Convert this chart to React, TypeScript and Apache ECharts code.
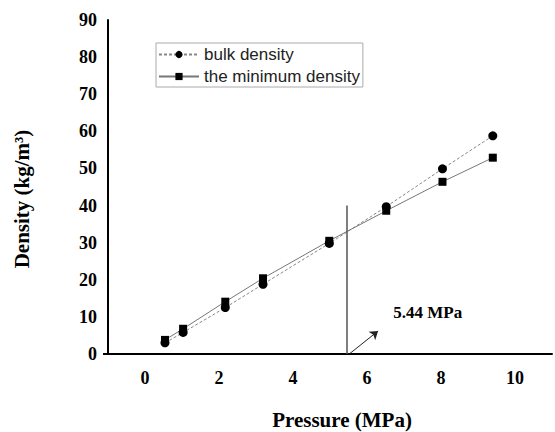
import React, { useEffect, useRef } from "react";
import * as echarts from "echarts";

const pressure = [0.54, 1.03, 2.17, 3.19, 4.98, 6.52, 8.04, 9.4];
const bulkDensity = [3.0, 5.8, 12.5, 18.8, 29.8, 39.7, 49.9, 58.8];
const minimumDensity = [3.8, 6.8, 14.1, 20.4, 30.5, 38.6, 46.4, 52.9];
const seriesNames = ["bulk density", "the minimum density"];
const criticalPressure = 5.44;
const criticalLineTop = 40;
const arrowStart = [5.52, 0];
const arrowEnd = [6.3, 6.2];
const annotationPos = [7.64, 11.3];
const annotationText = "5.44 MPa";

export default function App() {
  const ref = useRef<HTMLDivElement>(null);
  useEffect(() => {
    if (!ref.current) return;
    const chart = echarts.init(ref.current, undefined, { renderer: "svg" });
    const serif = "'Liberation Serif', 'Times New Roman', serif";
    const tickStyle = { fontFamily: serif, fontWeight: "bold", fontSize: 18, color: "#000" };
    chart.setOption({
      animation: false,
      backgroundColor: "#fff",
      textStyle: { fontFamily: serif },
      grid: { left: 108, right: 0, top: 20, bottom: 78 },
      legend: {
        orient: "vertical",
        left: 156,
        top: 43,
        itemWidth: 40,
        itemHeight: 9,
        itemGap: 5,
        padding: [3, 3, 2, 2],
        borderColor: "#aaa",
        borderWidth: 1,
        textStyle: { fontFamily: "'Liberation Sans', Arial, sans-serif", fontSize: 17, color: "#222" },
        data: seriesNames,
      },
      xAxis: {
        type: "value",
        min: -1,
        max: 11,
        interval: 1,
        axisLine: { onZero: false, lineStyle: { color: "#000", width: 2 } },
        axisTick: { show: false },
        splitLine: { show: false },
        axisLabel: {
          margin: 15,
          ...tickStyle,
          formatter: (v: number) => (v >= 0 && v <= 10 && v % 2 === 0 ? String(v) : ""),
        },
      },
      yAxis: {
        type: "value",
        min: 0,
        max: 90,
        interval: 10,
        axisLine: { show: true, onZero: false, lineStyle: { color: "#000", width: 2 } },
        axisTick: { show: false },
        splitLine: { show: false },
        axisLabel: { margin: 11, ...tickStyle },
      },
      graphic: [
        {
          type: "line",
          shape: { x1: 103, y1: 354, x2: 109, y2: 354 },
          style: { stroke: "#000", lineWidth: 2 },
        },
        {
          type: "text",
          x: 342,
          y: 420,
          style: {
            text: "Pressure (MPa)",
            font: "bold 21px " + serif,
            fill: "#000",
            textAlign: "center",
            textVerticalAlign: "middle",
          },
        },
        {
          type: "text",
          x: 22,
          y: 199,
          rotation: Math.PI / 2,
          style: {
            text: "Density (kg/m³)",
            font: "bold 21px " + serif,
            fill: "#000",
            textAlign: "center",
            textVerticalAlign: "middle",
          },
        },
      ],
      series: [
        {
          name: seriesNames[0],
          type: "line",
          data: pressure.map((p, i) => [p, bulkDensity[i]]),
          symbol: "circle",
          symbolSize: 9,
          itemStyle: { color: "#000" },
          lineStyle: { color: "#888", width: 1, type: [3, 2] },
          markLine: {
            silent: true,
            symbol: ["none", "none"],
            label: { show: false },
            lineStyle: { color: "#555", width: 1.5, type: "solid" },
            data: [
              [
                { coord: [criticalPressure, 0] },
                { coord: [criticalPressure, criticalLineTop] },
              ],
              [
                { coord: arrowStart, symbol: "none" },
                { coord: arrowEnd, symbol: "arrow", symbolSize: 8, lineStyle: { color: "#222", width: 1 } },
              ],
            ],
          },
          markPoint: {
            silent: true,
            symbol: "rect",
            symbolSize: [70, 30],
            itemStyle: { color: "#fff" },
            label: {
              show: true,
              formatter: annotationText,
              fontFamily: serif,
              fontWeight: "bold",
              fontSize: 17,
              color: "#000",
            },
            data: [{ coord: annotationPos }],
          },
        },
        {
          name: seriesNames[1],
          type: "line",
          data: pressure.map((p, i) => [p, minimumDensity[i]]),
          symbol: "rect",
          symbolSize: 8,
          itemStyle: { color: "#000" },
          lineStyle: { color: "#777", width: 1, type: "solid" },
        },
      ],
    });
    return () => chart.dispose();
  }, []);
  return <div ref={ref} style={{ width: 555, height: 432, position: "absolute", left: 0, top: 0 }} />;
}
